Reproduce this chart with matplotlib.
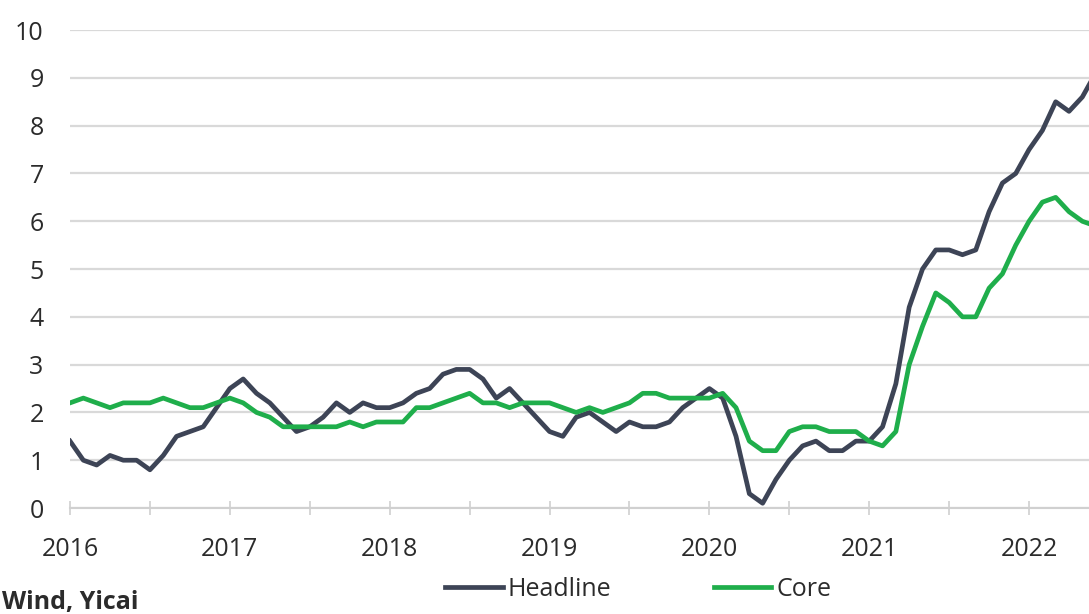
import matplotlib
matplotlib.use('Agg')
import matplotlib.pyplot as plt
import pandas as pd

plt.rcParams['font.family'] = ['Open Sans', 'DejaVu Sans']

months = pd.date_range('2016-01-01', '2022-06-01', freq='MS')

headline = [1.4, 1.0, 0.9, 1.1, 1.0, 1.0, 0.8, 1.1, 1.5, 1.6, 1.7, 2.1,
            2.5, 2.7, 2.4, 2.2, 1.9, 1.6, 1.7, 1.9, 2.2, 2.0, 2.2, 2.1,
            2.1, 2.2, 2.4, 2.5, 2.8, 2.9, 2.9, 2.7, 2.3, 2.5, 2.2, 1.9,
            1.6, 1.5, 1.9, 2.0, 1.8, 1.6, 1.8, 1.7, 1.7, 1.8, 2.1, 2.3,
            2.5, 2.3, 1.5, 0.3, 0.1, 0.6, 1.0, 1.3, 1.4, 1.2, 1.2, 1.4,
            1.4, 1.7, 2.6, 4.2, 5.0, 5.4, 5.4, 5.3, 5.4, 6.2, 6.8, 7.0,
            7.5, 7.9, 8.5, 8.3, 8.6, 9.1]

core = [2.2, 2.3, 2.2, 2.1, 2.2, 2.2, 2.2, 2.3, 2.2, 2.1, 2.1, 2.2,
        2.3, 2.2, 2.0, 1.9, 1.7, 1.7, 1.7, 1.7, 1.7, 1.8, 1.7, 1.8,
        1.8, 1.8, 2.1, 2.1, 2.2, 2.3, 2.4, 2.2, 2.2, 2.1, 2.2, 2.2,
        2.2, 2.1, 2.0, 2.1, 2.0, 2.1, 2.2, 2.4, 2.4, 2.3, 2.3, 2.3,
        2.3, 2.4, 2.1, 1.4, 1.2, 1.2, 1.6, 1.7, 1.7, 1.6, 1.6, 1.6,
        1.4, 1.3, 1.6, 3.0, 3.8, 4.5, 4.3, 4.0, 4.0, 4.6, 4.9, 5.5,
        6.0, 6.4, 6.5, 6.2, 6.0, 5.9]

years = [2016, 2017, 2018, 2019, 2020, 2021, 2022]

x = list(range(len(months)))

fig = plt.figure(figsize=(10.89, 6.14), dpi=100)
ax = fig.add_axes([0.0643, 0.1726, 1 - 0.0643, 0.951 - 0.1726])

ax.plot(x, headline, color='#3d4456', lw=3.4, label='Headline', solid_joinstyle='round')
ax.plot(x, core, color='#1fae4b', lw=3.4, label='Core', solid_joinstyle='round')

ax.set_yticks(range(0, 11))
ax.yaxis.grid(True, color='#d9d9d9', lw=1.6)
ax.set_axisbelow(True)

ax.set_xticks([12 * i for i in range(len(years))])
ax.set_xticklabels([str(y) for y in years])
ax.set_xticks([6 + 12 * i for i in range(len(years) - 1)], minor=True)
ax.set_xlim(0, 76.5)
ax.set_ylim(0, 10)

for s in ['top', 'right', 'left']:
    ax.spines[s].set_visible(False)
ax.spines['bottom'].set_color('#d0d0d0')
ax.spines['bottom'].set_linewidth(1.5)
ax.tick_params(axis='x', which='both', direction='inout', length=10, color='#d0d0d0', width=1.2,
               labelsize=18, labelcolor='#2b2b2b', pad=16)
ax.tick_params(axis='y', length=0, labelsize=18, labelcolor='#2b2b2b', pad=19)

fig.legend(loc='center', bbox_to_anchor=(0.586, 0.040), ncol=2, frameon=False, fontsize=18,
           handlelength=2.3, handletextpad=0.2, columnspacing=4.1, labelcolor='#2b2b2b')

fig.text(0.002, 0.018, 'Wind, Yicai', fontsize=18, fontweight='bold', color='#2b2b2b', va='center')

fig.savefig('out.png', dpi=100)
